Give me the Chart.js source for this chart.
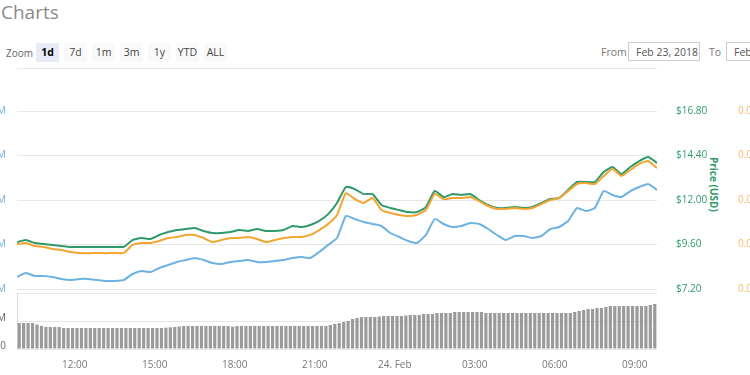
<!DOCTYPE html>
<html>
<head>
<meta charset="utf-8">
<script src="https://cdn.jsdelivr.net/npm/chart.js@4.4.1/dist/chart.umd.min.js"></script>
<style>
  html, body { margin: 0; padding: 0; background: #fff; }
  body { width: 750px; height: 375px; overflow: hidden; position: relative; font-family: 'Open Sans', sans-serif; }
  .title { position: absolute; left: 1px; top: -1px; font-size: 19px; color: #8a8a8a; }
  .zoom-label { position: absolute; left: 6px; top: 46px; font-size: 10px; color: #666; }
  .btn { position: absolute; top: 43px; width: 23px; height: 19px; line-height: 19px; text-align: center;
         font-size: 10.5px; color: #444; background: #f9f9f9; }
  .btn.on { background: #e6ebf5; color: #000; font-weight: bold; }
  .lbl { position: absolute; top: 45px; font-size: 10.5px; color: #777; }
  .box { position: absolute; top: 42px; width: 72px; height: 19px; line-height: 19px; border: 1px solid #ccc;
         font-size: 10.5px; color: #555; padding-left: 7px; box-sizing: border-box; white-space: nowrap; }
  .rule { position: absolute; left: 17px; top: 68px; width: 640px; height: 1px; background: #e8e8e8; }
  .axis-title { position: absolute; left: 707px; top: 157px; writing-mode: vertical-rl; font-size: 10px;
                font-weight: bold; color: #2e9a6c; }
  canvas { position: absolute; left: -60px; }
  #price { top: 100px; }
  #volume { top: 285px; }
</style>
</head>
<body>
<div class="title">Charts</div>
<div class="zoom-label">Zoom</div>
<div class="btn on" style="left:36px">1d</div>
<div class="btn" style="left:64px">7d</div>
<div class="btn" style="left:92px">1m</div>
<div class="btn" style="left:120px">3m</div>
<div class="btn" style="left:148px">1y</div>
<div class="btn" style="left:176px">YTD</div>
<div class="btn" style="left:204px">ALL</div>
<div class="lbl" style="left:601px">From</div>
<div class="box" style="left:628px">Feb 23, 2018</div>
<div class="lbl" style="left:709px">To</div>
<div class="box" style="left:726px">Feb 24, 2018</div>
<div class="rule"></div>
<div class="axis-title">Price (USD)</div>

<canvas id="price" width="870" height="197"></canvas>
<canvas id="volume" width="870" height="90"></canvas>

<script>
// 24h window starting Feb 23, 09:50 — x values are minutes since then
const PRICE_STEP_MIN = 20;
const VOLUME_STEP_MIN = 10;

const TICK_MINUTES = [130, 310, 490, 670, 850, 1030, 1210, 1390];
const TICK_LABELS  = ['12:00', '15:00', '18:00', '21:00', '24. Feb', '03:00', '06:00', '09:00'];

const USD_TICKS = [7.2, 9.6, 12, 14.4, 16.8];
const BTC_TICKS = [0.0008, 0.001, 0.0012, 0.0014, 0.0016];
const CAP_TICKS = [300, 400, 500, 600, 700];
const VOL_TICKS = [0, 40, 80];

const PRICE_USD = [
  9.73, 9.84, 9.68, 9.63, 9.57, 9.52, 9.47, 9.47, 9.46, 9.47,
  9.46, 9.47, 9.47, 9.84, 9.95, 9.90, 10.11, 10.27, 10.38, 10.44,
  10.49, 10.33, 10.22, 10.22, 10.27, 10.38, 10.33, 10.44, 10.33, 10.33,
  10.38, 10.60, 10.54, 10.65, 10.87, 11.24, 11.84, 12.70, 12.59, 12.32,
  12.32, 11.73, 11.57, 11.46, 11.35, 11.35, 11.62, 12.49, 12.16, 12.32,
  12.27, 12.32, 12.00, 11.73, 11.57, 11.57, 11.62, 11.57, 11.62, 11.84,
  12.05, 12.11, 12.54, 12.97, 12.97, 12.97, 13.51, 13.78, 13.40, 13.78,
  14.10, 14.32, 14.00
];

const PRICE_BTC = [
  0.001002, 0.001007, 0.000993, 0.000989, 0.000980, 0.000975, 0.000966, 0.000962, 0.000961, 0.000962,
  0.000961, 0.000962, 0.000962, 0.000998, 0.001007, 0.001007, 0.001016, 0.001029, 0.001034, 0.001043,
  0.001043, 0.001029, 0.001011, 0.001020, 0.001029, 0.001029, 0.001034, 0.001025, 0.001011, 0.001020,
  0.001029, 0.001034, 0.001034, 0.001043, 0.001065, 0.001092, 0.001133, 0.001231, 0.001204, 0.001187,
  0.001209, 0.001155, 0.001142, 0.001133, 0.001128, 0.001133, 0.001155, 0.001227, 0.001204, 0.001209,
  0.001209, 0.001213, 0.001195, 0.001173, 0.001160, 0.001160, 0.001164, 0.001160, 0.001164, 0.001182,
  0.001200, 0.001209, 0.001240, 0.001272, 0.001276, 0.001272, 0.001308, 0.001339, 0.001308, 0.001335,
  0.001362, 0.001375, 0.001344
];

// market cap, millions USD
const MARKET_CAP = [
  327.0, 336.0, 329.2, 329.2, 327.0, 322.5, 320.2, 322.5, 322.5, 320.2,
  318.0, 318.0, 320.2, 333.7, 340.4, 338.2, 347.2, 353.9, 360.7, 365.2,
  369.7, 365.2, 358.4, 356.2, 360.7, 362.9, 365.2, 360.7, 360.7, 362.9,
  365.2, 369.7, 371.9, 369.7, 383.1, 398.9, 414.6, 464.0, 457.3, 450.6,
  446.1, 441.6, 425.8, 416.9, 407.9, 403.4, 421.3, 457.3, 446.1, 439.3,
  441.6, 448.3, 446.1, 434.8, 421.3, 410.1, 419.1, 419.1, 414.6, 419.1,
  434.8, 439.3, 452.8, 482.0, 475.3, 482.0, 520.2, 511.2, 506.7, 520.2,
  529.2, 536.0, 522.5
];

// 24h volume, millions USD
const VOLUME = [
  37.1, 37.1, 37.1, 37.1, 35.0, 33.0, 31.4, 31.4, 31.4, 31.4,
  30.0, 30.0, 30.0, 30.0, 30.0, 30.0, 30.0, 30.0, 30.0, 30.0,
  30.0, 30.0, 30.0, 30.0, 30.0, 30.0, 30.0, 30.0, 30.0, 30.0,
  30.0, 30.0, 30.0, 30.5, 31.0, 31.6, 32.2, 32.9, 32.9, 32.9,
  32.9, 32.9, 32.9, 32.9, 32.9, 32.9, 32.9, 32.9, 31.9, 32.9,
  32.9, 32.9, 32.9, 32.9, 32.9, 32.9, 32.9, 32.9, 32.9, 32.9,
  32.9, 32.9, 32.9, 32.9, 32.9, 32.9, 32.9, 32.9, 32.9, 32.9,
  34.3, 35.7, 37.1, 38.6, 40.0, 42.9, 44.3, 45.7, 45.7, 45.7,
  45.7, 46.4, 47.1, 47.1, 47.1, 47.1, 47.1, 47.9, 48.6, 48.6,
  48.6, 50.0, 50.0, 50.0, 51.4, 51.4, 51.4, 51.4, 52.9, 52.9,
  52.9, 52.9, 52.9, 52.9, 52.9, 51.4, 51.4, 51.4, 51.4, 51.4,
  51.4, 51.4, 51.4, 51.4, 51.4, 51.4, 51.4, 51.4, 51.4, 51.4,
  51.4, 51.4, 51.4, 51.4, 51.4, 52.9, 54.3, 55.7, 57.1, 57.1,
  58.6, 58.6, 60.0, 61.4, 61.4, 61.4, 61.4, 61.4, 61.4, 61.4,
  61.4, 61.4, 62.9, 64.3
];

const GREEN  = '#2e9a6c';
const ORANGE = '#f2a52f';
const BLUE   = '#6db2e0';
const GRID   = '#e6e6e6';
const FONT   = { family: 'Open Sans', size: 10 };

const atPriceTimes = arr => arr.map((v, i) => ({ x: i * PRICE_STEP_MIN, y: v }));
const setTicks = list => scale => { scale.ticks = list.map(v => ({ value: v })); };
// fixed axis width; drop the label padding so the plot edges stay where the layout padding puts them
const fixWidth = w => s => { s.width = w; s.paddingTop = 0; s.paddingBottom = 0; };

new Chart(document.getElementById('price'), {
  type: 'line',
  data: {
    datasets: [
      { data: atPriceTimes(PRICE_BTC),  yAxisID: 'yBtc', borderColor: ORANGE, order: 1 },
      { data: atPriceTimes(PRICE_USD),  yAxisID: 'yUsd', borderColor: GREEN,  order: 2 },
      { data: atPriceTimes(MARKET_CAP), yAxisID: 'yCap', borderColor: BLUE,   order: 3 }
    ]
  },
  options: {
    responsive: false,
    animation: false,
    layout: { padding: { top: 11, bottom: 8, left: 0, right: 0 } },
    elements: { line: { borderWidth: 2, tension: 0.15 }, point: { radius: 0 } },
    plugins: { legend: { display: false }, tooltip: { enabled: false } },
    scales: {
      x: { type: 'linear', min: 0, max: 1440, display: false },
      yCap: {
        position: 'left', min: 300, max: 700,
        afterBuildTicks: setTicks(CAP_TICKS),
        afterFit: fixWidth(77),
        grid: { color: GRID, drawTicks: false },
        border: { display: false },
        ticks: { color: BLUE, font: FONT, padding: 11, callback: v => v + 'M' }
      },
      yUsd: {
        position: 'right', min: 7.2, max: 16.8,
        afterBuildTicks: setTicks(USD_TICKS),
        afterFit: fixWidth(62),
        grid: { display: false },
        border: { display: false },
        ticks: { color: GREEN, font: FONT, padding: 11, callback: v => '$' + v.toFixed(2) }
      },
      yBtc: {
        position: 'right', weight: 1, min: 0.0008, max: 0.0016,
        afterBuildTicks: setTicks(BTC_TICKS),
        afterFit: fixWidth(91),
        grid: { display: false },
        border: { display: false },
        ticks: { color: '#f5b86a', font: FONT, padding: 11, callback: v => v.toFixed(6) }
      }
    }
  }
});

new Chart(document.getElementById('volume'), {
  type: 'bar',
  data: {
    datasets: [{
      data: VOLUME.map((v, j) => ({ x: VOLUME_STEP_MIN / 2 + j * VOLUME_STEP_MIN, y: v })),
      backgroundColor: '#9a9a9a',
      barPercentage: 1,
      categoryPercentage: 0.72
    }]
  },
  options: {
    responsive: false,
    animation: false,
    layout: { padding: { top: 8, bottom: 0, left: 0, right: 153 } },
    plugins: { legend: { display: false }, tooltip: { enabled: false } },
    scales: {
      x: {
        type: 'linear', min: 0, max: 1440, offset: false,
        afterBuildTicks: setTicks(TICK_MINUTES),
        afterFit: s => { s.height = 26; s.paddingLeft = 0; s.paddingRight = 0; },
        grid: { display: false, offset: false },
        border: { display: false },
        ticks: {
          color: '#777', font: FONT, padding: 2, autoSkip: false, maxRotation: 0,
          callback: v => TICK_LABELS[TICK_MINUTES.indexOf(v)]
        }
      },
      y: {
        position: 'left', min: 0, max: 80,
        afterBuildTicks: setTicks(VOL_TICKS),
        afterFit: fixWidth(77),
        grid: { color: GRID, drawTicks: false },
        border: { display: true, color: '#dcdcdc' },
        ticks: {
          color: '#666', font: FONT, padding: 11, labelOffset: -3,
          callback: v => v === 80 ? '' : (v === 0 ? '0' : v + 'M')
        }
      }
    }
  }
});
</script>
</body>
</html>
